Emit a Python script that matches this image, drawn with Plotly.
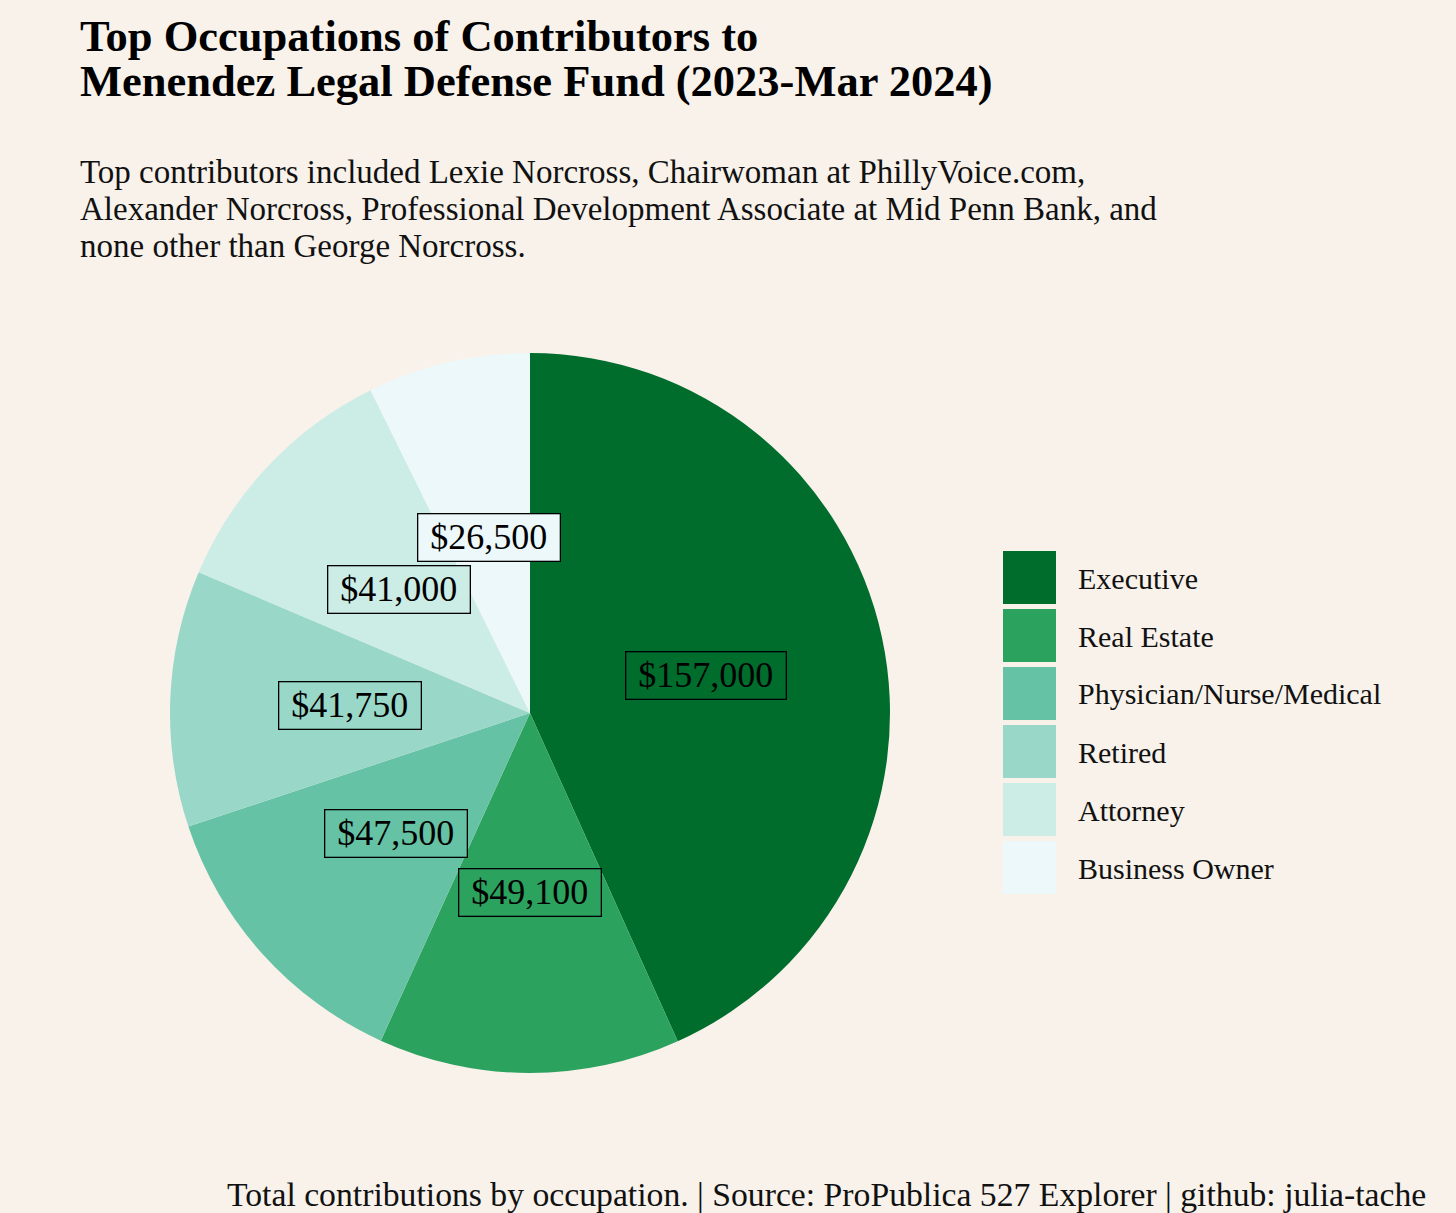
import plotly.graph_objects as go
import math

occupations = ["Executive", "Real Estate", "Physician/Nurse/Medical", "Retired", "Attorney", "Business Owner"]
amounts = [157000, 49100, 47500, 41750, 41000, 26500]
colors = ["#006D2C", "#2CA25F", "#66C2A4", "#99D8C9", "#CCECE6", "#EDF8FB"]

title_lines = ["Top Occupations of Contributors to", "Menendez Legal Defense Fund (2023-Mar 2024)"]
subtitle_lines = [
    "Top contributors included Lexie Norcross, Chairwoman at PhillyVoice.com,",
    "Alexander Norcross, Professional Development Associate at Mid Penn Bank, and",
    "none other than George Norcross.",
]
caption = "Total contributions by occupation. | Source: ProPublica 527 Explorer | github: julia-tache"

W, H = 1456, 1213
BG = "#F8F2EB"
FONT = "Liberation Serif"

# pie geometry (pixels)
CX, CY, R = 530, 713, 360


def px(x):
    return x / W


def py(y):
    return 1 - y / H


fig = go.Figure()
fig.add_trace(go.Pie(
    labels=occupations,
    values=amounts,
    sort=False,
    direction="clockwise",
    rotation=0,
    marker=dict(colors=colors, line=dict(width=0)),
    textinfo="none",
    hoverinfo="label+value",
    showlegend=False,
    domain=dict(x=[px(CX - R), px(CX + R)], y=[py(CY + R), py(CY - R)]),
))

annotations = []
# value labels at half radius, computed from cumulative values
total = sum(amounts)
cum = 0
for name, val, col in zip(occupations, amounts, colors):
    mid = (cum + val / 2) / total * 2 * math.pi
    cum += val
    lx = CX + 0.5 * R * math.sin(mid)
    ly = CY - 0.5 * R * math.cos(mid)
    annotations.append(dict(
        x=px(lx), y=py(ly), xref="paper", yref="paper",
        text=f"&#160;${val:,}&#160;", showarrow=False,
        font=dict(family=FONT, size=36, color="black"),
        bgcolor=col, bordercolor="black", borderwidth=1.3, borderpad=3,
        xanchor="center", yanchor="middle",
    ))

# legend
shapes = []
for i, (name, col) in enumerate(zip(occupations, colors)):
    top = 551 + 58 * i
    shapes.append(dict(
        type="rect", xref="paper", yref="paper",
        x0=px(1003), x1=px(1056), y0=py(top + 53), y1=py(top),
        fillcolor=col, line=dict(width=0),
    ))
    annotations.append(dict(
        x=px(1076), y=py(top + 27), xref="paper", yref="paper",
        text=name, showarrow=False, xanchor="left", yanchor="middle",
        font=dict(family=FONT, size=30, color="#111111"),
    ))

# titles
for i, line in enumerate(title_lines):
    annotations.append(dict(
        x=px(78), y=py(36 + 45 * i), xref="paper", yref="paper",
        text=f"<b>{line}</b>", showarrow=False, xanchor="left", yanchor="middle",
        font=dict(family=FONT, size=44.5, color="black"),
    ))
for i, line in enumerate(subtitle_lines):
    annotations.append(dict(
        x=px(78), y=py(172 + 37 * i), xref="paper", yref="paper",
        text=line, showarrow=False, xanchor="left", yanchor="middle",
        font=dict(family=FONT, size=33, color="#111111"),
    ))
annotations.append(dict(
    x=px(1428), y=py(1194), xref="paper", yref="paper",
    text=caption, showarrow=False, xanchor="right", yanchor="middle",
    font=dict(family=FONT, size=33.7, color="#111111"),
))

fig.update_layout(
    width=W, height=H,
    margin=dict(l=0, r=0, t=0, b=0),
    paper_bgcolor=BG, plot_bgcolor=BG,
    annotations=annotations, shapes=shapes,
    showlegend=False,
)

fig.write_html(
    "out.html",
    config={"displayModeBar": False},
    post_script="document.body.style.margin='0';document.body.style.background='%s';" % BG,
)
